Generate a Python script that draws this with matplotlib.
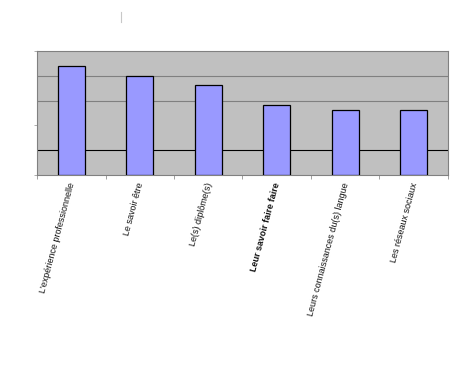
"""Recreate the grey-background Excel-style bar chart."""

import matplotlib
matplotlib.use("Agg")
import matplotlib.pyplot as plt
import numpy as np

CATEGORIES = [
    "L'expérience professionnelle",
    "Le savoir être",
    "Le(s) diplôme(s)",
    "Leur savoir faire faire",
    "Leurs connaissances du(s) langue",
    "Les réseaux sociaux",
]
VALUES = [4.41, 3.99, 3.62, 2.81, 2.61, 2.61]
BOLD = [False, False, False, True, False, False]

W, H = 456, 378
fig = plt.figure(figsize=(W / 100, H / 100), dpi=100)
fig.patch.set_facecolor("white")

# plot area in pixels: x 37..448, y 51..175
ax = fig.add_axes([37 / W, 1 - 175 / H, (448 - 37) / W, (175 - 51) / H])
ax.set_facecolor("#C0C0C0")

x = np.arange(len(CATEGORIES))
ax.set_xlim(-0.5, len(CATEGORIES) - 0.5)
ax.set_ylim(0, 5)

for yv, col in [(1, "#000000"), (3, "#808080"), (4, "#808080")]:
    ax.axhline(yv, color=col, linewidth=0.8, zorder=1)

ax.bar(x, VALUES, width=0.4, color="#9999FF", edgecolor="black",
       linewidth=0.9, zorder=3)

for s in ax.spines.values():
    s.set_color("#808080")
    s.set_linewidth(0.8)

ax.set_yticks([0, 2, 5])
ax.set_yticklabels([])
ax.tick_params(axis="y", length=2, color="#A0A0A0", width=0.6)
ax.set_xticks(np.arange(len(CATEGORIES) + 1) - 0.5)
ax.set_xticklabels([])
ax.tick_params(axis="x", length=3, color="#909090", width=0.6)

for xi, label, bold in zip(x, CATEGORIES, BOLD):
    ax.text(xi - 0.05, -0.25, label, rotation=75, rotation_mode="anchor",
            ha="right", va="top", fontsize=6.5, family="Liberation Sans",
            fontweight="bold" if bold else "normal", color="#111111",
            transform=ax.transData, clip_on=False)

# small stray mark at the top
fig.add_artist(plt.Line2D([121 / W, 121 / W], [1 - 12 / H, 1 - 22 / H],
                          color="#C8C8C8", linewidth=0.8))

fig.savefig("out.png", dpi=100)
